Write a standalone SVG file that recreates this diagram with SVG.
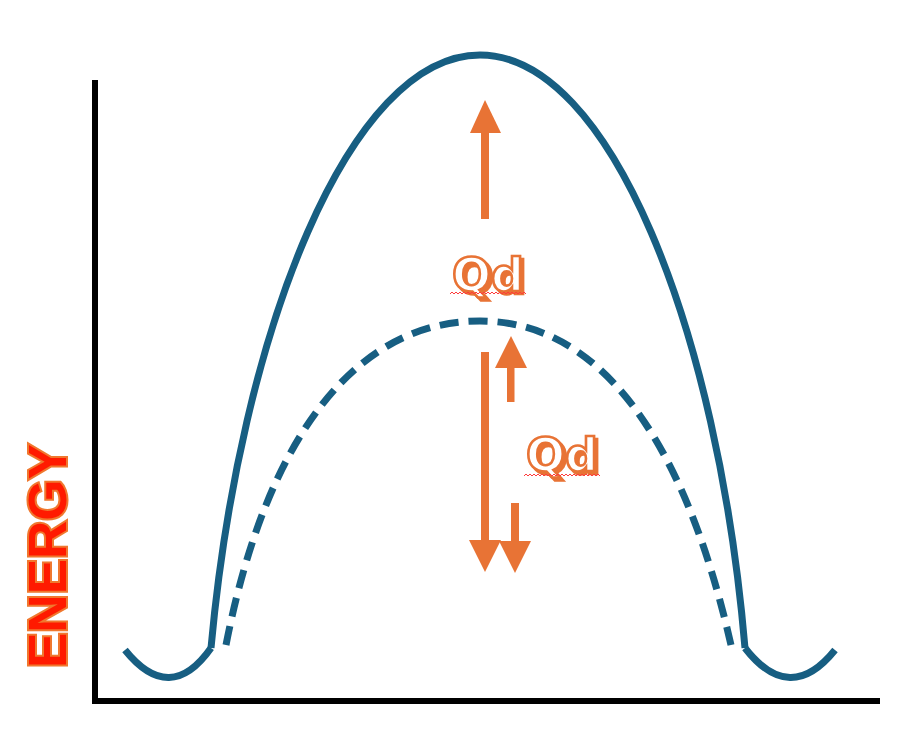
<svg xmlns="http://www.w3.org/2000/svg" width="914" height="743" viewBox="0 0 914 743">
<defs>
<filter id="shadow" x="-20%" y="-20%" width="140%" height="140%">
<feFlood flood-color="#E87335" result="c"/>
<feComposite in="c" in2="SourceAlpha" operator="in" result="s"/>
<feOffset in="s" dx="3" dy="3" result="o"/>
<feMerge><feMergeNode in="o"/><feMergeNode in="SourceGraphic"/></feMerge>
</filter>
</defs>
<style>
.curve{fill:none;stroke:#175E82;stroke-width:7;stroke-linecap:butt}
.dash{stroke-dasharray:19 10}
.axis{fill:none;stroke:#000;stroke-width:6}
.arr{fill:#E87335}
.qd{font-family:"DejaVu Sans",Verdana,sans-serif;font-weight:bold;font-size:46px;fill:#fff;stroke:#E87335;stroke-width:2.6}
.squig{fill:none;stroke:#FF3B3B;stroke-width:1}
.energy{font-family:"Liberation Sans",Arial,sans-serif;font-weight:bold;font-size:53px;fill:#FF1A00;stroke:#F0782E;stroke-width:4;paint-order:stroke}
</style>
<g id="axes">
<line class="axis" x1="95" y1="80" x2="95" y2="704"/>
<line class="axis" x1="92" y1="701" x2="880" y2="701"/>
</g>
<g id="curves">
<path class="curve" d="M125,650 Q170,706 211,648"/>
<path class="curve" d="M211,648 C240,330 350,55 480,55 C610,55 718,330 745,648"/>
<path class="curve" d="M745,648 Q790,706 835,650"/>
<path class="curve dash" d="M226,645 C268,430 360,321 480,321 C595,321 682,430 731,645"/>
</g>
<g id="connectors">
<rect class="arr" x="481" y="131" width="8" height="88"/>
<polygon class="arr" points="485,100 470,133 501,133"/>
<rect class="arr" x="507" y="365" width="7.5" height="37"/>
<polygon class="arr" points="511,336 495,368 527,368"/>
<rect class="arr" x="481" y="352" width="8" height="190"/>
<polygon class="arr" points="469,540 501,540 485,572"/>
<rect class="arr" x="511" y="503" width="8" height="39"/>
<polygon class="arr" points="499,541 531,541 515,573"/>
</g>
<g id="label-qd-top">
<text class="qd" filter="url(#shadow)" x="452" y="291">Qd</text>
<path class="squig" d="M450,294 l2,-2 l2,2 l2,-2 l2,2 l2,-2 l2,2 l2,-2 l2,2 l2,-2 l2,2 l2,-2 l2,2 l2,-2 l2,2 l2,-2 l2,2 l2,-2 l2,2 l2,-2 l2,2 l2,-2 l2,2 l2,-2 l2,2 l2,-2 l2,2 l2,-2 l2,2 l2,-2 l2,2 l2,-2 l2,2 l2,-2 l2,2 l2,-2 l2,2 l2,-2 l2,2"/>
</g>
<g id="label-qd-bottom">
<text class="qd" filter="url(#shadow)" x="526" y="471">Qd</text>
<path class="squig" d="M524,476 l2,-2 l2,2 l2,-2 l2,2 l2,-2 l2,2 l2,-2 l2,2 l2,-2 l2,2 l2,-2 l2,2 l2,-2 l2,2 l2,-2 l2,2 l2,-2 l2,2 l2,-2 l2,2 l2,-2 l2,2 l2,-2 l2,2 l2,-2 l2,2 l2,-2 l2,2 l2,-2 l2,2 l2,-2 l2,2 l2,-2 l2,2 l2,-2 l2,2 l2,-2 l2,2"/>
</g>
<g id="label-energy">
<text class="energy" transform="translate(66,668) rotate(-90)" x="0" y="0">ENERGY</text>
</g>
</svg>
